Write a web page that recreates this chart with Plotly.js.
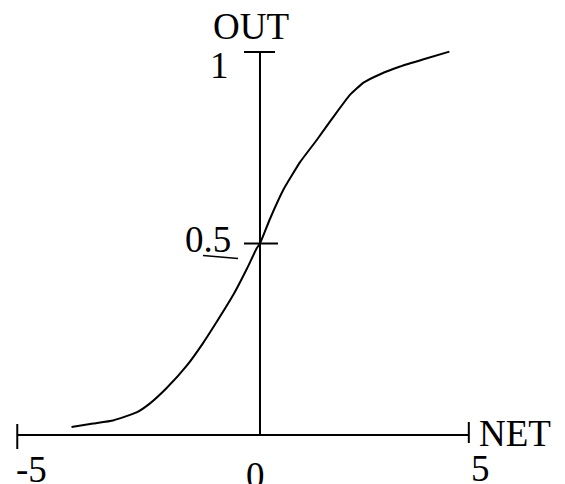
<!DOCTYPE html>
<html>
<head>
<meta charset="utf-8">
<script src="https://cdn.plot.ly/plotly-3.0.1.min.js"></script>
<style>
  html, body { margin: 0; padding: 0; background: #fff; }
  #chart { width: 565px; height: 484px; }
</style>
</head>
<body>
<div id="chart"></div>
<script>
// sigmoid-like activation curve: NET -> OUT
const netValues = [-4.17, -3.69, -3.25, -2.73, -2.44, -2.07, -1.62, -1.26, -0.96, -0.59, -0.29, -0.07,
                   0, 0.22, 0.52, 0.89, 1.26, 1.62, 1.99, 2.29, 2.66, 3.10, 3.62, 4.19];
const outValues = [0.021, 0.030, 0.038, 0.059, 0.082, 0.122, 0.181, 0.240, 0.295, 0.366, 0.434, 0.488,
                   0.5, 0.564, 0.641, 0.713, 0.771, 0.830, 0.888, 0.920, 0.942, 0.962, 0.981, 1.001];

// axis ticks and labels
const xTickVals = [-5, 0, 5];
const xTickText = ['-5', '0', '5'];
const yTickVals = [0.5, 1];
const yTickText = ['0.5', '1'];
const xAxisEnds = [-5.37, 4.62];
const yAxisEnds = [0, 1];

const FONT = { family: '"Liberation Serif", "Times New Roman", serif', size: 37, color: '#000' };
const LINE = { color: '#000', width: 2 };

const shapes = [];
// horizontal axis (NET)
shapes.push({ type: 'line', xref: 'x', yref: 'y', x0: xAxisEnds[0], x1: xAxisEnds[1], y0: 0, y1: 0, line: LINE });
// vertical axis (OUT)
shapes.push({ type: 'line', xref: 'x', yref: 'y', x0: 0, x1: 0, y0: yAxisEnds[0], y1: yAxisEnds[1], line: LINE });
// end caps on the NET axis
shapes.push({ type: 'line', xref: 'x', yref: 'y', ysizemode: 'pixel', yanchor: 0,
              x0: xAxisEnds[0], x1: xAxisEnds[0], y0: -14, y1: 11, line: LINE });
shapes.push({ type: 'line', xref: 'x', yref: 'y', ysizemode: 'pixel', yanchor: 0,
              x0: xAxisEnds[1], x1: xAxisEnds[1], y0: -8, y1: 13, line: LINE });
// ticks on the OUT axis
yTickVals.forEach(v => {
    shapes.push({ type: 'line', xref: 'x', yref: 'y', xsizemode: 'pixel', xanchor: 0,
                  x0: -16, x1: v === 1 ? 15 : 18, y0: v, y1: v, line: LINE });
});
// little stroke under the 0.5 label
shapes.push({ type: 'line', xref: 'x', yref: 'y', xsizemode: 'pixel', xanchor: 0,
              ysizemode: 'pixel', yanchor: 0.5, x0: -57, x1: -22, y0: -12, y1: -15,
              line: { color: '#000', width: 1.5 } });

const annotations = [];
const xShift = [-2, -4, -5];
const xLabelDrop = [-34, -40, -33];
xTickVals.forEach((v, i) => {
    annotations.push({ x: v, y: 0, xref: 'x', yref: 'y', text: xTickText[i], showarrow: false,
                       xanchor: 'center', yanchor: 'middle', xshift: xShift[i], yshift: xLabelDrop[i], font: FONT });
});
const yShift = [4, -13];
const yXShift = [-52, -40];
yTickVals.forEach((v, i) => {
    annotations.push({ x: 0, y: v, xref: 'x', yref: 'y', text: yTickText[i], showarrow: false,
                       xanchor: 'center', yanchor: 'middle', xshift: yXShift[i], yshift: yShift[i], font: FONT });
});
annotations.push({ x: 0, y: yAxisEnds[1], xref: 'x', yref: 'y', text: 'OUT', showarrow: false,
                   xanchor: 'center', yanchor: 'middle', xshift: -9, yshift: 26, font: FONT });
annotations.push({ x: xAxisEnds[1], y: 0, xref: 'x', yref: 'y', text: 'NET', showarrow: false,
                   xanchor: 'left', yanchor: 'middle', xshift: 8, yshift: 2, font: FONT });

Plotly.newPlot('chart', [{
    x: netValues,
    y: outValues,
    type: 'scatter',
    mode: 'lines',
    line: { color: '#000', width: 2, shape: 'spline', smoothing: 0.4 },
    hoverinfo: 'skip'
}], {
    width: 565,
    height: 484,
    margin: { l: 0, r: 0, t: 0, b: 0 },
    paper_bgcolor: '#fff',
    plot_bgcolor: '#fff',
    showlegend: false,
    xaxis: { range: [-5.752, 6.748], visible: false, fixedrange: true },
    yaxis: { range: [-0.1279, 1.1358], visible: false, fixedrange: true },
    shapes: shapes,
    annotations: annotations
}, { staticPlot: true });
</script>
</body>
</html>
